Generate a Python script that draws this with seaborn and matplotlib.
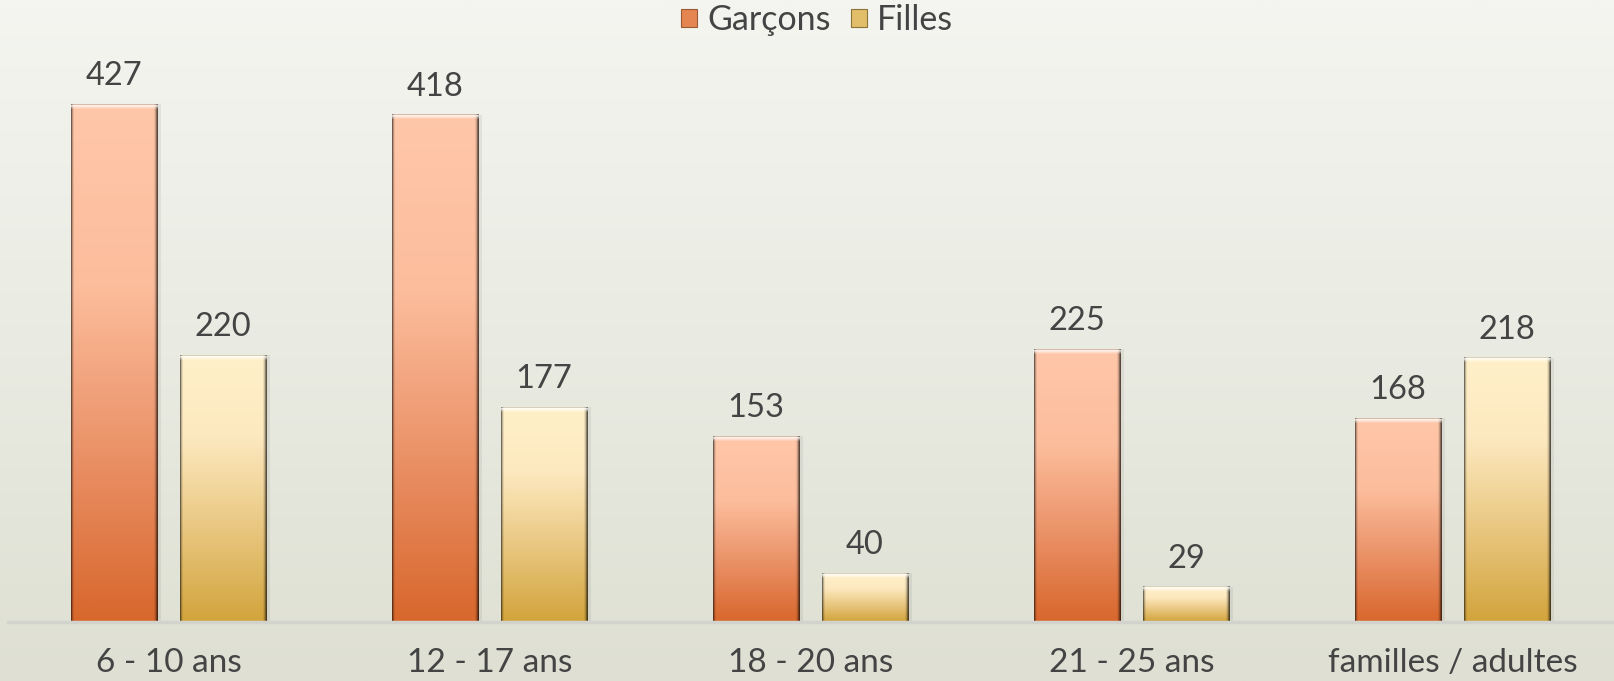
import numpy as np
import pandas as pd
import matplotlib
matplotlib.use("Agg")
import matplotlib.pyplot as plt
import seaborn as sns
from matplotlib.colors import LinearSegmentedColormap, to_rgb
from matplotlib.patches import Patch

categories = ["6 - 10 ans", "12 - 17 ans", "18 - 20 ans", "21 - 25 ans", "familles / adultes"]
garcons = [427, 418, 153, 225, 168]
filles = [220, 177, 40, 29, 218]
series = ["Garçons", "Filles"]

df = pd.DataFrame({
    "cat": categories * 2,
    "val": garcons + filles,
    "sexe": [series[0]] * len(categories) + [series[1]] * len(categories),
})

sns.set_theme(style="white")
plt.rcParams["font.family"] = ["Lato", "DejaVu Sans"]
TXT = "#444444"

W, H, DPI = 1614, 681, 100
fig = plt.figure(figsize=(W / DPI, H / DPI), dpi=DPI)

# background gradient
bg = fig.add_axes([0, 0, 1, 1], zorder=-10)
top_c = np.array(to_rgb("#f4f5f0"))
bot_c = np.array(to_rgb("#dfe0d3"))
t = np.linspace(0, 1, 256)[:, None]
grad = top_c[None, :] * (1 - t) + bot_c[None, :] * t
bg.imshow(grad[:, None, :].repeat(2, axis=1), aspect="auto", extent=(0, 1, 0, 1))
bg.set_axis_off()

base_y = 622
ax = fig.add_axes([8 / W, 1 - base_y / H, 1 - 9 / W, base_y / H])
ax.patch.set_alpha(0)

palette = {"Garçons": "#e8895a", "Filles": "#e4c070"}
sns.barplot(data=df, x="cat", y="val", hue="sexe", palette=palette, order=categories,
            hue_order=series, width=0.68, gap=0.21, ax=ax, legend=False, zorder=2)

px_per_unit = 1.213
ax.set_ylim(0, base_y / px_per_unit)
ax.set_xlim(-0.5, len(categories) - 0.5)

stops = {
    "Garçons": [(0.0, "#ffc7a9"), (0.35, "#fcbd9c"), (0.7, "#e98e63"), (1.0, "#d8672c")],
    "Filles": [(0.0, "#fff0c9"), (0.3, "#fde9c0"), (0.7, "#e6c277"), (1.0, "#d2a43c")],
}
cmaps = {k: LinearSegmentedColormap.from_list(k, v) for k, v in stops.items()}

for container, name in zip(ax.containers, series):
    cmap = cmaps[name]
    for p in container.patches:
        x, w, h = p.get_x(), p.get_width(), p.get_height()
        nrows = max(int(round(h * px_per_unit)), 2)
        ncols = 86
        v = np.linspace(0, 1, nrows)
        img = cmap(v)[:, None, :3].repeat(ncols, axis=1).copy()
        shade = np.ones(ncols)
        shade[0] = 0.45; shade[1] = 0.75; shade[2] = 0.92
        shade[-1] = 0.35; shade[-2] = 0.55; shade[-3] = 0.8; shade[-4] = 0.93
        img = img * shade[None, :, None]
        hl = min(5, nrows)
        for r in range(hl):
            a = [0.35, 0.75, 0.6, 0.35, 0.15][r]
            img[r] = img[r] * (1 - a) + a
        img[0] = img[0] * 0.85
        p.set_facecolor("none")
        p.set_edgecolor("none")
        ax.imshow(np.clip(img, 0, 1), aspect="auto", extent=(x, x + w, 0, h),
                  zorder=3, interpolation="bilinear")
        ax.fill_between([x + w, x + w + 0.012], 0, h, color="#000000", alpha=0.06,
                        lw=0, zorder=1)
        ax.text(x + w / 2, h + 13 / px_per_unit, f"{int(round(h))}", ha="center",
                va="bottom", fontsize=23.5, color=TXT, zorder=5)

ax.set_xlim(-0.5, len(categories) - 0.5)
ax.set_ylim(0, base_y / px_per_unit)

ax.axhline(0, color="#d3d3cd", lw=2.5, zorder=4, clip_on=False)
ax.set_xlabel("")
ax.set_ylabel("")
ax.set_yticks([])
ax.tick_params(axis="x", length=0, pad=19, labelsize=24, labelcolor=TXT)
for s in ax.spines.values():
    s.set_visible(False)

handles = [Patch(facecolor="#e58552", edgecolor="#9a5a36", lw=0.8, label=series[0]),
           Patch(facecolor="#e2bd6a", edgecolor="#8c7436", lw=0.8, label=series[1])]
fig.legend(handles=handles, loc="center", bbox_to_anchor=(817 / W, 1 - 20 / H), ncol=2,
           frameon=False, fontsize=24.5, handlelength=0.46, handleheight=0.46,
           handletextpad=0.3, columnspacing=0.6, labelcolor=TXT, borderaxespad=0)

fig.savefig("out.png", dpi=DPI)
